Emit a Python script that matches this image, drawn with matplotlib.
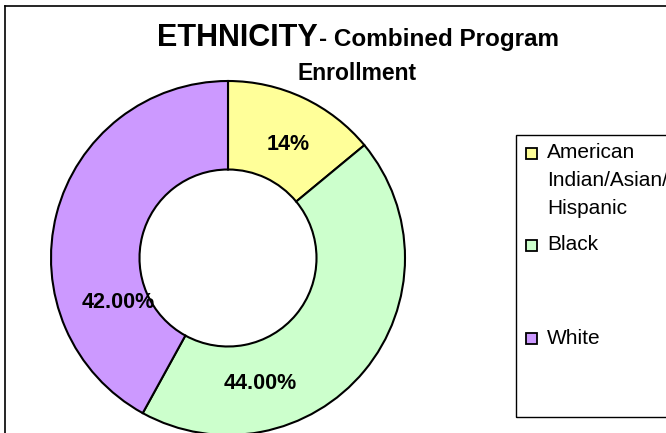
import matplotlib.pyplot as plt
from matplotlib.patches import Rectangle
from matplotlib.lines import Line2D

# data
categories = ["American\nIndian/Asian/\nHispanic", "Black", "White"]
shares = [14, 44, 42]
pct_labels = ["14%", "44.00%", "42.00%"]
colors = ["#FFFF99", "#CCFFCC", "#CC99FF"]

W, H = 666, 433
fig = plt.figure(figsize=(W / 100, H / 100), dpi=100)

def fx(px):
    return px / W

def fy(py):
    # py measured from top of picture
    return 1 - py / H

fam = ["Liberation Sans", "DejaVu Sans"]

# outer frame (only top and left visible)
fig.add_artist(Line2D([fx(5), 1.0], [fy(6), fy(6)], color="black", lw=1.2))
fig.add_artist(Line2D([fx(5), fx(5)], [fy(6), 0.0], color="black", lw=1.2))

# donut, center (228, 258), radius 177 px
cx, cy, r = 228, 258, 177
ax = fig.add_axes([fx(cx - r), fy(cy + r), 2 * r / W, 2 * r / H])
ax.pie(shares, colors=colors, startangle=90, counterclock=False,
       radius=1.0, wedgeprops=dict(width=0.5, edgecolor="black", linewidth=1.5))
ax.set_xlim(-1, 1)
ax.set_ylim(-1, 1)
ax.set_aspect("equal")
ax.axis("off")

# percentage labels (Excel offsets them from the wedge centre)
label_pos = [(0.34, 0.64), (0.18, -0.71), (-0.62, -0.25)]
for (lx, ly), txt in zip(label_pos, pct_labels):
    ax.text(lx, ly, txt, ha="center", va="center", fontsize=15.5,
            fontweight="bold", family=fam)

# title
fig.text(fx(318), fy(46), "ETHNICITY", ha="right", va="baseline",
         fontsize=22, fontweight="bold", family=fam)
fig.text(fx(319), fy(46), "- Combined Program", ha="left", va="baseline",
         fontsize=17.5, fontweight="bold", family=fam)
fig.text(fx(357), fy(80), "Enrollment", ha="center", va="baseline",
         fontsize=16.5, fontweight="bold", family=fam)

# legend box (runs past the right edge)
fig.add_artist(Rectangle((fx(516), fy(417)), fx(700 - 516), fy(135) - fy(417),
                         transform=fig.transFigure, facecolor="none",
                         edgecolor="black", lw=1.0))
legend_y = [153, 245, 338]
for yy, lab, col in zip(legend_y, categories, colors):
    fig.add_artist(Rectangle((fx(526), fy(yy + 5.5)), fx(11), fy(0) - fy(11),
                             transform=fig.transFigure, facecolor=col,
                             edgecolor="black", lw=1.3))
    for i, ln in enumerate(lab.split("\n")):
        fig.text(fx(547), fy(yy + i * 28), ln, ha="left", va="center",
                 fontsize=15, family=fam)

fig.savefig("out.png", dpi=100)
